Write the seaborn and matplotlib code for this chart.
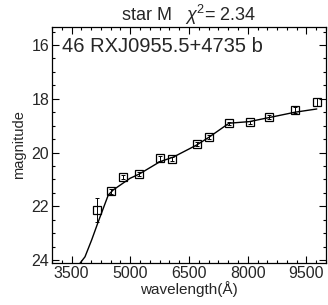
import numpy as np
import pandas as pd
import matplotlib
matplotlib.use('Agg')
import matplotlib.pyplot as plt
from matplotlib.ticker import MultipleLocator
import seaborn as sns

# photometry points (wavelength in Angstrom, magnitude, error)
obs_wave = [4143, 4501, 4824, 5225, 5762, 6069, 6700, 7015, 7527, 8046, 8550, 9215, 9770]
obs_mag = [22.13, 21.45, 20.90, 20.81, 20.22, 20.25, 19.69, 19.41, 18.91, 18.87, 18.69, 18.42, 18.13]
obs_err = [0.45, 0.10, 0.08, 0.08, 0.08, 0.08, 0.08, 0.08, 0.06, 0.06, 0.08, 0.12, 0.15]

# best fitting template (star M)
model_wave = [3715, 3843, 4014, 4183, 4438, 4566, 4993, 5230, 5759, 6099, 6697, 7011, 7522,
              8041, 8544, 9208, 9763]
model_mag = [24.12, 23.88, 23.25, 22.57, 21.58, 21.39, 20.96, 20.80, 20.34, 20.17, 19.72,
             19.43, 18.91, 18.85, 18.70, 18.50, 18.38]

title_text = r'star M   $\chi^2$= 2.34'
object_name = '46 RXJ0955.5+4735 b'

sns.set_style('ticks')
plt.rcParams['font.family'] = ['Liberation Sans', 'DejaVu Sans']
plt.rcParams['mathtext.fontset'] = 'custom'
plt.rcParams['mathtext.rm'] = 'Liberation Sans'
plt.rcParams['mathtext.it'] = 'Liberation Sans:italic'

df_obs = pd.DataFrame({'wave': obs_wave, 'mag': obs_mag, 'err': obs_err})
df_mod = pd.DataFrame({'wave': model_wave, 'mag': model_mag})

fig = plt.figure(figsize=(3.28, 3.05), dpi=100)
ax = fig.add_axes([0.1585, 0.1377, 0.8355, 0.7738])

sns.lineplot(data=df_mod, x='wave', y='mag', color='black', lw=1.0, ax=ax,
             estimator=None, sort=False)
ax.errorbar(df_obs['wave'], df_obs['mag'], yerr=df_obs['err'], fmt='none',
            ecolor='black', elinewidth=0.7, capsize=1.5, capthick=0.7)
ax.plot(df_obs['wave'], df_obs['mag'], ls='none', marker='s', ms=6,
        mfc='none', mec='black', mew=0.9)

ax.set_xlim(3000, 10000)
ax.set_ylim(24.11, 15.33)
ax.set_xticks([3500, 5000, 6500, 8000, 9500])
ax.set_yticks([16, 18, 20, 22, 24])
ax.xaxis.set_minor_locator(MultipleLocator(250))
ax.yaxis.set_minor_locator(MultipleLocator(0.5))
ax.tick_params(which='both', direction='in', top=True, right=True,
               labelsize=11.5, pad=2, color='black')
ax.tick_params(which='major', length=5, width=0.8)
ax.tick_params(which='minor', length=2.5, width=0.8)
for s in ax.spines.values():
    s.set_linewidth(0.9)
    s.set_color('black')

ax.set_xlabel('wavelength(Å)', fontsize=11, labelpad=0)
ax.set_ylabel('magnitude', fontsize=10.5, labelpad=4)
ax.set_title(title_text, fontsize=13, pad=4)
ax.text(0.036, 0.895, object_name, transform=ax.transAxes, fontsize=14.5,
        va='baseline', ha='left')

fig.savefig('out.png', dpi=100)
